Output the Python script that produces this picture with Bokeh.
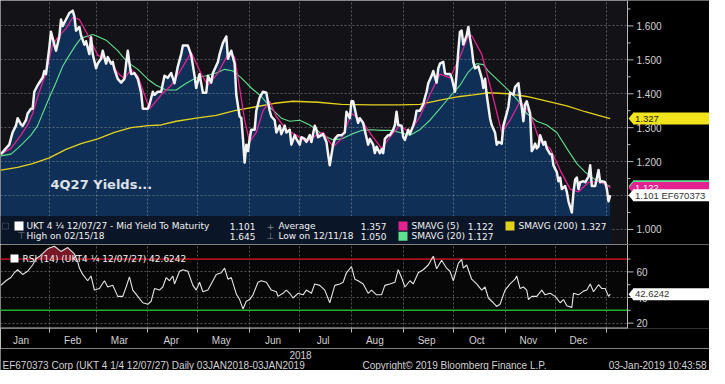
import numpy as np
import pandas as pd
from bokeh.plotting import figure
from bokeh.layouts import column
from bokeh.models import (Range1d, FixedTicker, Label, BoxAnnotation, Span,
                          DatetimeTickFormatter)
from bokeh.core.properties import value
from bokeh.embed import file_html
from bokeh.resources import INLINE

# ---------------- data ----------------
price_dates = [
    "2018-01-03", "2018-01-06", "2018-01-08", "2018-01-10", "2018-01-12", "2018-01-13", "2018-01-15", "2018-01-16", "2018-01-18", "2018-01-19",
    "2018-01-21", "2018-01-22", "2018-01-23", "2018-01-25", "2018-01-28", "2018-01-29", "2018-01-30", "2018-02-01", "2018-02-02", "2018-02-04",
    "2018-02-05", "2018-02-07", "2018-02-08", "2018-02-09", "2018-02-11", "2018-02-13", "2018-02-15", "2018-02-16", "2018-02-17", "2018-02-19",
    "2018-02-20", "2018-02-22", "2018-02-23", "2018-02-25", "2018-02-26", "2018-02-27", "2018-03-01", "2018-03-02", "2018-03-04", "2018-03-05",
    "2018-03-07", "2018-03-08", "2018-03-10", "2018-03-11", "2018-03-12", "2018-03-14", "2018-03-16", "2018-03-18", "2018-03-19", "2018-03-20",
    "2018-03-21", "2018-03-22", "2018-03-24", "2018-03-26", "2018-03-28", "2018-03-29", "2018-04-01", "2018-04-02", "2018-04-04", "2018-04-05",
    "2018-04-07", "2018-04-09", "2018-04-11", "2018-04-13", "2018-04-15", "2018-04-17", "2018-04-19", "2018-04-21", "2018-04-22", "2018-04-25",
    "2018-04-27", "2018-04-29", "2018-04-30", "2018-05-02", "2018-05-04", "2018-05-06", "2018-05-07", "2018-05-09", "2018-05-10", "2018-05-13",
    "2018-05-14", "2018-05-16", "2018-05-18", "2018-05-19", "2018-05-20", "2018-05-21", "2018-05-23", "2018-05-24", "2018-05-26", "2018-05-27",
    "2018-05-28", "2018-05-29", "2018-05-30", "2018-05-31", "2018-06-01", "2018-06-02", "2018-06-04", "2018-06-05", "2018-06-07", "2018-06-09",
    "2018-06-11", "2018-06-13", "2018-06-14", "2018-06-16", "2018-06-17", "2018-06-19", "2018-06-20", "2018-06-22", "2018-06-23", "2018-06-25",
    "2018-06-26", "2018-06-28", "2018-06-29", "2018-07-01", "2018-07-02", "2018-07-04", "2018-07-05", "2018-07-07", "2018-07-08", "2018-07-10",
    "2018-07-11", "2018-07-12", "2018-07-14", "2018-07-15", "2018-07-17", "2018-07-18", "2018-07-19", "2018-07-21", "2018-07-22", "2018-07-24",
    "2018-07-26", "2018-07-28", "2018-07-29", "2018-07-31", "2018-08-01", "2018-08-02", "2018-08-04", "2018-08-05", "2018-08-06", "2018-08-08",
    "2018-08-09", "2018-08-11", "2018-08-12", "2018-08-14", "2018-08-15", "2018-08-16", "2018-08-18", "2018-08-19", "2018-08-20", "2018-08-21",
    "2018-08-23", "2018-08-24", "2018-08-26", "2018-08-27", "2018-08-28", "2018-08-29", "2018-08-31", "2018-09-01", "2018-09-02", "2018-09-04",
    "2018-09-05", "2018-09-07", "2018-09-08", "2018-09-09", "2018-09-11", "2018-09-13", "2018-09-14", "2018-09-15", "2018-09-16", "2018-09-18",
    "2018-09-19", "2018-09-21", "2018-09-22", "2018-09-23", "2018-09-25", "2018-09-26", "2018-09-27", "2018-09-29", "2018-09-30", "2018-10-02",
    "2018-10-03", "2018-10-04", "2018-10-05", "2018-10-06", "2018-10-07", "2018-10-09", "2018-10-10", "2018-10-11", "2018-10-12", "2018-10-13",
    "2018-10-14", "2018-10-16", "2018-10-18", "2018-10-19", "2018-10-20", "2018-10-21", "2018-10-23", "2018-10-24", "2018-10-26", "2018-10-27",
    "2018-10-28", "2018-10-30", "2018-10-31", "2018-11-02", "2018-11-03", "2018-11-04", "2018-11-06", "2018-11-07", "2018-11-09", "2018-11-10",
    "2018-11-11", "2018-11-12", "2018-11-13", "2018-11-14", "2018-11-16", "2018-11-17", "2018-11-18", "2018-11-19", "2018-11-20", "2018-11-21",
    "2018-11-22", "2018-11-24", "2018-11-25", "2018-11-26", "2018-11-28", "2018-11-29", "2018-11-30", "2018-12-02", "2018-12-03", "2018-12-04",
    "2018-12-05", "2018-12-07", "2018-12-08", "2018-12-09", "2018-12-11", "2018-12-12", "2018-12-13", "2018-12-14", "2018-12-15", "2018-12-16",
    "2018-12-18", "2018-12-19", "2018-12-21", "2018-12-22", "2018-12-23", "2018-12-24", "2018-12-25", "2018-12-27", "2018-12-28", "2018-12-29",
    "2018-12-31", "2019-01-01", "2019-01-02", "2019-01-03"]
price = [
    1.222, 1.239, 1.250, 1.286, 1.306, 1.328, 1.310, 1.305, 1.322, 1.342,
    1.356, 1.356, 1.406, 1.425, 1.448, 1.467, 1.458, 1.536, 1.583, 1.545,
    1.527, 1.569, 1.619, 1.600, 1.619, 1.638, 1.645, 1.628, 1.586, 1.597,
    1.572, 1.545, 1.555, 1.517, 1.567, 1.517, 1.475, 1.489, 1.503, 1.527,
    1.489, 1.508, 1.489, 1.494, 1.472, 1.444, 1.433, 1.444, 1.489, 1.527,
    1.489, 1.458, 1.461, 1.444, 1.403, 1.356, 1.356, 1.369, 1.406, 1.397,
    1.406, 1.406, 1.453, 1.447, 1.461, 1.431, 1.481, 1.517, 1.542, 1.542,
    1.514, 1.453, 1.417, 1.458, 1.403, 1.403, 1.453, 1.433, 1.461, 1.494,
    1.517, 1.550, 1.569, 1.503, 1.517, 1.527, 1.489, 1.397, 1.333, 1.328,
    1.267, 1.197, 1.250, 1.231, 1.267, 1.294, 1.294, 1.350, 1.389, 1.406,
    1.403, 1.350, 1.333, 1.322, 1.286, 1.306, 1.281, 1.306, 1.286, 1.294,
    1.250, 1.278, 1.267, 1.250, 1.272, 1.267, 1.258, 1.278, 1.258, 1.306,
    1.294, 1.272, 1.278, 1.281, 1.258, 1.222, 1.189, 1.250, 1.267, 1.278,
    1.278, 1.286, 1.347, 1.328, 1.378, 1.378, 1.333, 1.314, 1.328, 1.314,
    1.292, 1.250, 1.267, 1.250, 1.225, 1.244, 1.225, 1.236, 1.225, 1.267,
    1.278, 1.278, 1.294, 1.308, 1.347, 1.308, 1.306, 1.272, 1.264, 1.294,
    1.281, 1.306, 1.322, 1.350, 1.350, 1.369, 1.389, 1.406, 1.431, 1.453,
    1.467, 1.433, 1.475, 1.489, 1.494, 1.461, 1.458, 1.458, 1.447, 1.406,
    1.461, 1.527, 1.583, 1.586, 1.545, 1.572, 1.597, 1.564, 1.536, 1.494,
    1.475, 1.481, 1.447, 1.417, 1.444, 1.397, 1.328, 1.308, 1.286, 1.250,
    1.258, 1.253, 1.306, 1.342, 1.361, 1.403, 1.397, 1.420, 1.431, 1.389,
    1.361, 1.319, 1.369, 1.378, 1.342, 1.231, 1.239, 1.253, 1.239, 1.244,
    1.278, 1.250, 1.258, 1.239, 1.222, 1.222, 1.189, 1.169, 1.142, 1.153,
    1.119, 1.128, 1.111, 1.083, 1.050, 1.111, 1.147, 1.153, 1.119, 1.139,
    1.142, 1.139, 1.156, 1.189, 1.128, 1.128, 1.128, 1.175, 1.139, 1.142,
    1.139, 1.119, 1.083, 1.101]

sma5_dates = [
    "2018-01-03", "2018-01-09", "2018-01-15", "2018-01-19", "2018-01-22", "2018-01-26", "2018-01-30", "2018-02-03", "2018-02-07", "2018-02-11",
    "2018-02-15", "2018-02-19", "2018-02-23", "2018-02-26", "2018-03-02", "2018-03-07", "2018-03-10", "2018-03-14", "2018-03-18", "2018-03-22",
    "2018-03-26", "2018-03-30", "2018-04-02", "2018-04-06", "2018-04-09", "2018-04-15", "2018-04-21", "2018-04-27", "2018-05-03", "2018-05-07",
    "2018-05-13", "2018-05-19", "2018-05-23", "2018-05-26", "2018-05-29", "2018-06-01", "2018-06-05", "2018-06-09", "2018-06-13", "2018-06-17",
    "2018-06-23", "2018-06-29", "2018-07-05", "2018-07-11", "2018-07-15", "2018-07-21", "2018-07-26", "2018-08-01", "2018-08-07", "2018-08-13",
    "2018-08-19", "2018-08-25", "2018-08-30", "2018-09-05", "2018-09-11", "2018-09-17", "2018-09-23", "2018-09-29", "2018-10-05", "2018-10-10",
    "2018-10-12", "2018-10-18", "2018-10-24", "2018-10-30", "2018-11-04", "2018-11-10", "2018-11-16", "2018-11-22", "2018-11-28", "2018-12-04",
    "2018-12-10", "2018-12-15", "2018-12-21", "2018-12-27", "2019-01-02", "2019-01-03"]
sma5 = [
    1.222, 1.239, 1.278, 1.308, 1.342, 1.406, 1.461, 1.545, 1.572, 1.592,
    1.625, 1.619, 1.583, 1.555, 1.514, 1.500, 1.494, 1.461, 1.444, 1.472,
    1.453, 1.397, 1.356, 1.378, 1.397, 1.425, 1.472, 1.522, 1.458, 1.425,
    1.461, 1.517, 1.508, 1.417, 1.322, 1.258, 1.286, 1.350, 1.378, 1.333,
    1.294, 1.278, 1.258, 1.278, 1.286, 1.244, 1.267, 1.342, 1.322, 1.278,
    1.239, 1.278, 1.306, 1.286, 1.333, 1.397, 1.458, 1.447, 1.508, 1.572,
    1.572, 1.517, 1.406, 1.286, 1.322, 1.378, 1.342, 1.258, 1.239, 1.175,
    1.119, 1.111, 1.139, 1.142, 1.128, 1.122]

sma20_dates = [
    "2018-01-03", "2018-01-09", "2018-01-13", "2018-01-16", "2018-01-21", "2018-01-25", "2018-01-28", "2018-02-01", "2018-02-05", "2018-02-09",
    "2018-02-13", "2018-02-17", "2018-02-20", "2018-02-27", "2018-03-02", "2018-03-07", "2018-03-10", "2018-03-14", "2018-03-18", "2018-03-22",
    "2018-03-26", "2018-03-30", "2018-04-02", "2018-04-06", "2018-04-12", "2018-04-18", "2018-04-24", "2018-04-30", "2018-05-06", "2018-05-12",
    "2018-05-17", "2018-05-22", "2018-05-27", "2018-06-02", "2018-06-08", "2018-06-14", "2018-06-20", "2018-06-25", "2018-07-01", "2018-07-07",
    "2018-07-12", "2018-07-15", "2018-07-21", "2018-07-26", "2018-08-01", "2018-08-07", "2018-08-13", "2018-08-19", "2018-08-25", "2018-08-30",
    "2018-09-05", "2018-09-11", "2018-09-17", "2018-09-23", "2018-09-29", "2018-10-05", "2018-10-10", "2018-10-15", "2018-10-19", "2018-10-22",
    "2018-10-28", "2018-11-03", "2018-11-09", "2018-11-14", "2018-11-20", "2018-11-26", "2018-12-02", "2018-12-08", "2018-12-14", "2018-12-19",
    "2018-12-25", "2018-12-31", "2019-01-03"]
sma20 = [
    1.217, 1.222, 1.239, 1.253, 1.278, 1.306, 1.342, 1.389, 1.433, 1.481,
    1.514, 1.545, 1.564, 1.575, 1.569, 1.558, 1.545, 1.527, 1.503, 1.486,
    1.472, 1.453, 1.439, 1.425, 1.411, 1.411, 1.431, 1.447, 1.453, 1.461,
    1.472, 1.467, 1.447, 1.417, 1.392, 1.356, 1.328, 1.319, 1.322, 1.308,
    1.290, 1.278, 1.264, 1.267, 1.281, 1.292, 1.294, 1.292, 1.292, 1.286,
    1.278, 1.294, 1.322, 1.356, 1.392, 1.425, 1.464, 1.489, 1.486, 1.467,
    1.439, 1.411, 1.378, 1.342, 1.319, 1.308, 1.286, 1.239, 1.194, 1.169,
    1.147, 1.133, 1.127]

sma200_dates = [
    "2018-01-03", "2018-01-13", "2018-01-22", "2018-02-01", "2018-02-11", "2018-02-20", "2018-03-02", "2018-03-12", "2018-03-22", "2018-04-01",
    "2018-04-09", "2018-04-18", "2018-04-30", "2018-05-12", "2018-05-23", "2018-06-04", "2018-06-16", "2018-06-27", "2018-07-12", "2018-07-26",
    "2018-08-13", "2018-08-30", "2018-09-11", "2018-09-23", "2018-10-05", "2018-10-13", "2018-10-22", "2018-11-03", "2018-11-14", "2018-11-26",
    "2018-12-08", "2018-12-19", "2018-12-27", "2019-01-03"]
sma200 = [
    1.175, 1.183, 1.194, 1.211, 1.236, 1.253, 1.267, 1.286, 1.300, 1.306,
    1.308, 1.319, 1.328, 1.336, 1.350, 1.361, 1.372, 1.378, 1.375, 1.369,
    1.367, 1.367, 1.369, 1.381, 1.392, 1.397, 1.403, 1.400, 1.392, 1.378,
    1.364, 1.347, 1.336, 1.327]

rsi_dates = [
    "2018-01-03", "2018-01-06", "2018-01-09", "2018-01-11", "2018-01-13", "2018-01-16", "2018-01-19", "2018-01-22", "2018-01-24", "2018-01-26",
    "2018-01-31", "2018-02-04", "2018-02-08", "2018-02-12", "2018-02-16", "2018-02-18", "2018-02-19", "2018-02-21", "2018-02-24", "2018-02-26",
    "2018-02-28", "2018-03-03", "2018-03-06", "2018-03-08", "2018-03-11", "2018-03-14", "2018-03-17", "2018-03-19", "2018-03-21", "2018-03-23",
    "2018-03-26", "2018-03-29", "2018-04-01", "2018-04-03", "2018-04-05", "2018-04-08", "2018-04-10", "2018-04-12", "2018-04-14", "2018-04-16",
    "2018-04-17", "2018-04-20", "2018-04-22", "2018-04-25", "2018-04-28", "2018-04-30", "2018-05-02", "2018-05-04", "2018-05-07", "2018-05-10",
    "2018-05-12", "2018-05-15", "2018-05-17", "2018-05-19", "2018-05-21", "2018-05-24", "2018-05-26", "2018-05-28", "2018-05-30", "2018-06-01",
    "2018-06-03", "2018-06-06", "2018-06-08", "2018-06-11", "2018-06-14", "2018-06-17", "2018-06-18", "2018-06-21", "2018-06-23", "2018-06-25",
    "2018-06-27", "2018-06-30", "2018-07-03", "2018-07-05", "2018-07-08", "2018-07-10", "2018-07-13", "2018-07-16", "2018-07-19", "2018-07-22",
    "2018-07-25", "2018-07-27", "2018-07-29", "2018-08-01", "2018-08-03", "2018-08-05", "2018-08-08", "2018-08-11", "2018-08-13", "2018-08-16",
    "2018-08-19", "2018-08-21", "2018-08-24", "2018-08-27", "2018-08-29", "2018-08-31", "2018-09-02", "2018-09-05", "2018-09-07", "2018-09-10",
    "2018-09-13", "2018-09-16", "2018-09-19", "2018-09-21", "2018-09-24", "2018-09-27", "2018-09-29", "2018-10-01", "2018-10-04", "2018-10-06",
    "2018-10-07", "2018-10-09", "2018-10-12", "2018-10-15", "2018-10-18", "2018-10-20", "2018-10-22", "2018-10-25", "2018-10-27", "2018-10-29",
    "2018-11-01", "2018-11-04", "2018-11-07", "2018-11-08", "2018-11-10", "2018-11-12", "2018-11-14", "2018-11-15", "2018-11-17", "2018-11-20",
    "2018-11-23", "2018-11-25", "2018-11-28", "2018-12-01", "2018-12-04", "2018-12-06", "2018-12-08", "2018-12-11", "2018-12-12", "2018-12-15",
    "2018-12-18", "2018-12-20", "2018-12-22", "2018-12-24", "2018-12-27", "2018-12-29", "2018-12-31", "2019-01-02", "2019-01-03"]
rsi = [
    49.5, 53.1, 55.6, 59.3, 61.7, 58.0, 60.5, 65.4, 70.3, 72.0,
    78.0, 80.0, 76.0, 79.0, 74.0, 68.0, 63.0, 58.0, 53.1, 56.8,
    45.8, 47.0, 53.1, 48.2, 49.5, 40.9, 40.9, 48.2, 56.1, 45.8,
    40.9, 35.9, 34.7, 37.1, 47.0, 45.8, 48.2, 55.6, 53.1, 56.8,
    50.6, 60.5, 61.7, 60.5, 49.5, 45.8, 51.9, 44.5, 45.8, 53.1,
    58.0, 59.3, 62.9, 54.3, 55.6, 42.8, 38.4, 31.1, 37.1, 38.4,
    42.1, 51.9, 53.1, 51.9, 45.8, 44.5, 40.9, 43.3, 45.8, 43.3,
    39.6, 43.3, 42.1, 45.8, 43.3, 50.6, 49.5, 45.8, 35.9, 49.5,
    50.6, 51.9, 59.3, 64.2, 54.3, 53.1, 50.6, 43.3, 45.8, 42.1,
    42.1, 49.5, 50.6, 51.9, 61.7, 55.6, 48.2, 53.1, 50.6, 59.3,
    61.7, 65.4, 72.3, 62.4, 69.1, 62.9, 60.5, 53.1, 66.6, 69.8,
    62.9, 65.4, 54.3, 50.6, 45.8, 48.2, 39.6, 35.9, 33.0, 34.7,
    45.8, 50.6, 54.3, 56.8, 47.0, 48.2, 45.8, 38.4, 40.9, 40.9,
    45.8, 42.1, 43.3, 40.9, 35.9, 38.4, 33.5, 32.3, 43.3, 42.1,
    45.0, 45.8, 50.6, 44.5, 50.0, 47.0, 47.0, 40.9, 42.6]

y_ticks = [1.0, 1.1, 1.2, 1.3, 1.4, 1.5, 1.6]
y_minor = [0.95, 1.05, 1.15, 1.25, 1.35, 1.45, 1.55, 1.65]
rsi_ticks = [20, 40, 60]
rsi_minor = [30, 50, 70]
rsi_overbought, rsi_oversold = 70, 30

legend_row1 = ["UKT 4 \u00bc 12/07/27 - Mid Yield To Maturity", "1.101", "Average", "1.357",
               "SMAVG (5)", "1.122", "SMAVG (200)", "1.327"]
legend_row2 = ["High on 02/15/18", "1.645", "Low on 12/11/18", "1.050", "SMAVG (20)", "1.127"]
rsi_title = "RSI (14) (UKT4 \u00bc 12/07/27) 42.6242"
tag_texts = {"sma200": "1.327", "sma20": "1.127", "sma5": "1.122", "last": "1.101 EF670373",
             "rsi": "42.6242"}
footer_left = "EF670373 Corp (UKT 4 1/4 12/07/27)  Daily 03JAN2018-03JAN2019"
footer_mid = "Copyright\u00a9 2019 Bloomberg Finance L.P."
footer_right = "03-Jan-2019 10:43:58"
year_label = "2018"

# ---------------- layout constants ----------------
W, FW = 709, 627                 # canvas width, width of the data area (axis line at FW)
H_MAIN, H_RSI, H_FOOT = 244, 84, 22
Y0, Y1 = 0.9556, 1.675
R0, R1 = 15.8, 81.4
SPAN_DAYS = 375.6

WHITE = "#f2f2f2"
MAGENTA = "#e3218f"
GREEN = "#5fe08f"
YELLOW = "#e3d21c"
AXIS_COL = "#b8b8b8"
TXT_COL = "#d2d2d2"
AX_FONT = "Liberation Sans"
LG_FONT = "DejaVu Sans"

x_start = pd.Timestamp("2018-01-02 18:00")
axis_x = x_start + pd.Timedelta(days=SPAN_DAYS)
x_end = x_start + pd.Timedelta(days=SPAN_DAYS * W / FW)
axis_ms = axis_x.value / 1e6
x_range = Range1d(x_start, x_end)


def dx(px):
    return pd.Timedelta(days=px * SPAN_DAYS / FW)


def ms(idx):
    return [float(v) for v in (pd.DatetimeIndex(idx).asi8 // 10**6)]


month_ticks = ms(pd.date_range("2018-02-01", periods=12, freq="MS"))
label_ticks = ms(pd.date_range("2018-01-01", periods=12, freq="MS") + pd.Timedelta(days=14))


def style_grid(fig, yt):
    fig.xgrid.ticker = FixedTicker(ticks=month_ticks)
    fig.ygrid.ticker = FixedTicker(ticks=yt)
    for g in (fig.xgrid, fig.ygrid):
        g.grid_line_color = "#9aa0a8"
        g.grid_line_alpha = 0.5
        g.grid_line_dash = "2 2"
        g.grid_line_width = 1


def right_axis(fig, ticks, minor, labels):
    # black area right of the data region, covering grid lines
    fig.add_layout(BoxAnnotation(left=axis_ms, fill_color="#000000", fill_alpha=1.0,
                                 line_color=None))
    fig.add_layout(Span(location=axis_ms, dimension="height", line_color=AXIS_COL,
                        line_width=1, level="overlay"))
    n, m = len(ticks), len(minor)
    fig.segment(x0=[axis_x] * n, x1=[axis_x + dx(6)] * n, y0=ticks, y1=ticks,
                line_color=AXIS_COL, line_width=1, level="overlay")
    fig.segment(x0=[axis_x] * m, x1=[axis_x + dx(3)] * m, y0=minor, y1=minor,
                line_color=AXIS_COL, line_width=1, level="overlay")
    fig.text(x=[axis_x + dx(9)] * n, y=ticks, text=labels, text_color=TXT_COL,
             text_font=value(AX_FONT), text_font_size="10px", text_baseline="middle",
             text_align="left", level="overlay")


def tag(fig, yv, text, bg, fg, px_per_unit, h=12):
    hh = h / 2 / px_per_unit
    fig.patch(x=[axis_x + dx(1), axis_x + dx(6), axis_x + dx(6)],
              y=[yv, yv + hh, yv - hh], fill_color=bg, line_color=None, level="overlay")
    fig.quad(left=[axis_x + dx(5.5)], right=[x_end], top=[yv + hh], bottom=[yv - hh],
             fill_color=bg, line_color=None, level="overlay")
    fig.text(x=[axis_x + dx(7.5)], y=[yv], text=[text], text_color=fg,
             text_font=value(AX_FONT), text_font_size="9.5px", text_baseline="middle",
             text_align="left", level="overlay")


def label(fig, x, y, text, color=WHITE, size="9px", align="left", font=LG_FONT,
          style="normal", y_units="screen"):
    fig.add_layout(Label(x=x, y=y, x_units="screen", y_units=y_units, text=text,
                         text_color=color, text_font_size=size, text_align=align,
                         text_baseline="middle", text_font=font, text_font_style=style))


def square(fig, left, bottom, size, color, fill=True):
    fig.add_layout(BoxAnnotation(left=left, right=left + size, bottom=bottom,
                                 top=bottom + size, left_units="screen", right_units="screen",
                                 bottom_units="screen", top_units="screen",
                                 fill_color=color if fill else None, fill_alpha=1.0,
                                 line_color=None if fill else color, line_width=1))


# ---------------- main panel ----------------
pdates = pd.to_datetime(price_dates)
p = figure(frame_width=W, frame_height=H_MAIN, x_range=x_range, y_range=Range1d(Y0, Y1),
           x_axis_type="datetime", x_axis_location=None, y_axis_location=None,
           min_border=0, toolbar_location=None, output_backend="svg",
           background_fill_color="#131217", border_fill_color="#000000",
           outline_line_color=None)
style_grid(p, y_ticks)
px_main = H_MAIN / (Y1 - Y0)

p.varea(x=pdates, y1=Y0, y2=price, fill_color="#0f2f56", fill_alpha=1.0, level="image")
p.line(pd.to_datetime(sma200_dates), sma200, line_color=YELLOW, line_width=1.3)
p.line(pd.to_datetime(sma20_dates), sma20, line_color=GREEN, line_width=1.1)
p.line(pd.to_datetime(sma5_dates), sma5, line_color=MAGENTA, line_width=1.3)
p.line(pdates, price, line_color=WHITE, line_width=2.5, line_join="round")

label(p, 50, 60, "4Q27 Yields...", color="#dde1ea", size="13px", style="bold")

# legend box
p.add_layout(BoxAnnotation(left=0, right=610, bottom=0, top=28.5, left_units="screen",
                           right_units="screen", bottom_units="screen", top_units="screen",
                           fill_color="#0a1628", fill_alpha=1.0, line_color=None))
r1, r2 = 18.4, 8.3
square(p, 2, r1 - 3, 6, "#8a8a8a", fill=False)
square(p, 14, r1 - 4.5, 9, "#ffffff")
label(p, 26, r1, legend_row1[0])
label(p, 255, r1, legend_row1[1], align="right")
label(p, 270, r1, "+", color="#8a8a8a", align="center")
label(p, 278, r1, legend_row1[2])
label(p, 386, r1, legend_row1[3], align="right")
square(p, 398, r1 - 4.5, 9, MAGENTA)
label(p, 411, r1, legend_row1[4])
label(p, 493, r1, legend_row1[5], align="right")
square(p, 505, r1 - 4.5, 9, YELLOW)
label(p, 518, r1, legend_row1[6])
label(p, 606, r1, legend_row1[7], align="right")

label(p, 21, r2, "\u22a4", color="#8a8a8a", align="center")
label(p, 26, r2, legend_row2[0])
label(p, 255, r2, legend_row2[1], align="right")
label(p, 270, r2, "\u22a5", color="#8a8a8a", align="center")
label(p, 278, r2, legend_row2[2])
label(p, 386, r2, legend_row2[3], align="right")
square(p, 398, r2 - 4.5, 9, GREEN)
label(p, 411, r2, legend_row2[4])
label(p, 493, r2, legend_row2[5], align="right")

right_axis(p, y_ticks, y_minor, [f"{v:.3f}" for v in y_ticks])
tag(p, sma200[-1], tag_texts["sma200"], "#f2e41c", "#222222", px_main)
tag(p, sma20[-1], tag_texts["sma20"], GREEN, "#222222", px_main)
tag(p, sma5[-1], tag_texts["sma5"], MAGENTA, "#ffffff", px_main)
tag(p, price[-1], tag_texts["last"], "#ffffff", "#333333", px_main)

# ---------------- RSI panel ----------------
rdates = pd.to_datetime(rsi_dates)
r = figure(frame_width=W, frame_height=H_RSI, x_range=x_range, y_range=Range1d(R0, R1),
           x_axis_type="datetime", y_axis_location=None,
           min_border=0, toolbar_location=None, output_backend="svg",
           background_fill_color="#070707", border_fill_color="#000000",
           outline_line_color=None)
style_grid(r, rsi_ticks)
px_r = H_RSI / (R1 - R0)
xa = r.xaxis[0]
xa.ticker = FixedTicker(ticks=label_ticks, minor_ticks=month_ticks)
xa.formatter = DatetimeTickFormatter(days="%b", months="%b", years="%b")
xa.major_tick_line_color = None
xa.major_tick_out = 0
xa.major_tick_in = 0
xa.minor_tick_line_color = AXIS_COL
xa.minor_tick_out = 4
xa.minor_tick_in = 0
xa.axis_line_color = None
xa.major_label_text_color = TXT_COL
xa.major_label_text_font = AX_FONT
xa.major_label_text_font_size = "10px"
xa.major_label_standoff = 2

r.segment(x0=[x_start, x_start], x1=[axis_x, axis_x], y0=[rsi_overbought, rsi_oversold],
          y1=[rsi_overbought, rsi_oversold], line_color=["#a8121f", "#22b022"], line_width=1.6)
r.varea(x=rdates, y1=rsi_overbought, y2=np.maximum(np.array(rsi), rsi_overbought),
        fill_color="#8c1a2c", fill_alpha=0.85)
r.line(rdates, rsi, line_color="#e4e4e4", line_width=1.1)
# bottom axis rule of the data region
r.segment(x0=[x_start], x1=[axis_x], y0=[R0 + 0.5 / px_r], y1=[R0 + 0.5 / px_r],
          line_color=AXIS_COL, line_width=1, level="overlay")

ry_title = R1 - 14 / px_r
r.add_layout(BoxAnnotation(left=10, right=18, left_units="screen", right_units="screen",
                           bottom=ry_title - 4 / px_r, top=ry_title + 4 / px_r,
                           fill_color="#ffffff", fill_alpha=1.0, line_color=None))
label(r, 22, ry_title, rsi_title, y_units="data")
right_axis(r, rsi_ticks, rsi_minor, [str(v) for v in rsi_ticks])
tag(r, rsi[-1], tag_texts["rsi"], "#ffffff", "#333333", px_r)

# ---------------- footer ----------------
f = figure(frame_width=W, frame_height=H_FOOT, x_range=Range1d(0, W), y_range=Range1d(0, H_FOOT),
           x_axis_location=None, y_axis_location=None, min_border=0,
           toolbar_location=None, output_backend="svg",
           background_fill_color="#000000", border_fill_color="#000000", outline_line_color=None)
f.grid.visible = False
for txt, x, al, y in [(year_label, 300, "center", 16), (footer_left, 2, "left", 5),
                      (footer_mid, 362, "left", 5), (footer_right, W - 3, "right", 5)]:
    f.add_layout(Label(x=x, y=y, text=txt, text_color=TXT_COL, text_font_size="10px",
                       text_font=AX_FONT, text_align=al, text_baseline="middle"))

layout = column(p, r, f, spacing=0)
open("out.html", "w").write(file_html(layout, INLINE))
